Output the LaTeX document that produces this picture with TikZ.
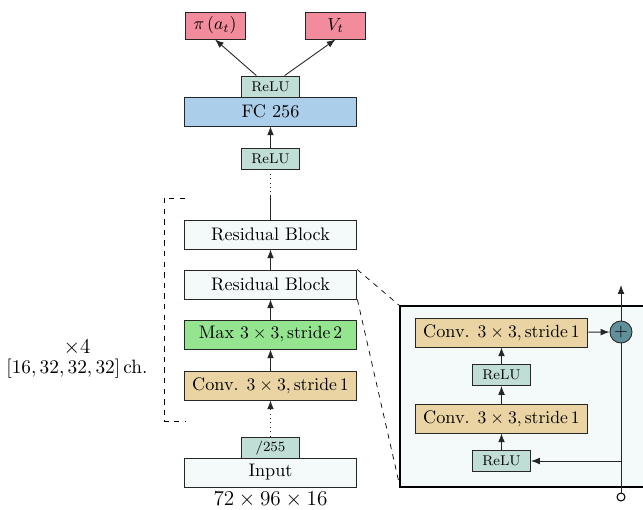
\documentclass[tikz,border=0pt]{standalone}
\usetikzlibrary{arrows.meta}
\definecolor{outpink}{RGB}{242,139,155}
\definecolor{fcblue}{RGB}{171,207,234}
\definecolor{relugreen}{RGB}{193,222,214}
\definecolor{maxgreen}{RGB}{149,228,144}
\definecolor{convtan}{RGB}{235,212,164}
\definecolor{lightfill}{RGB}{244,250,250}
\definecolor{addteal}{RGB}{96,144,153}
\begin{document}
\begin{tikzpicture}[>={Latex[length=5pt,width=3.8pt]}, x=0.567pt, y=-0.567pt,
    box/.style={draw=black!85, line width=0.5pt, inner sep=0pt, minimum width=98pt, minimum height=16.4pt, font=\fontsize{10.3}{12}\selectfont},
    small/.style={draw=black!85, line width=0.5pt, fill=relugreen, inner sep=0pt, minimum width=32.9pt, minimum height=11.9pt, font=\footnotesize},
    head/.style={draw=black!85, line width=0.5pt, fill=outpink, inner sep=0pt, minimum width=34pt, minimum height=15.3pt, font=\fontsize{10.3}{12}\selectfont},
    line/.style={draw=black!85, line width=0.5pt}]
  \useasboundingbox (0,0) rectangle (643,510);
  % outputs
  \node[head] (pi) at (215,25.5) {$\pi\left(a_t\right)$};
  \node[head] (V) at (335.5,25.5) {$V_t$};
  \node[small] (relua) at (270.5,86.5) {ReLU};
  \node[box, fill=fcblue] (fc) at (270.5,111.5) {FC 256};
  \node[small] (relub) at (270.5,158.5) {ReLU};
  % residual stack
  \node[box, fill=lightfill] (rb1) at (270.5,234.5) {Residual Block};
  \node[box, fill=lightfill] (rb2) at (270.5,284.5) {Residual Block};
  \node[box, fill=maxgreen] (pool) at (270.5,334.5) {Max $3\times3, \mathrm{stride}\,2$};
  \node[box, fill=convtan] (conv) at (270.5,385.5) {Conv. $3\times3, \mathrm{stride}\,1$};
  \node[small] (norm) at (270.5,447.5) {$/255$};
  \node[box, fill=lightfill] (input) at (270.5,472.5) {Input};
  \node[font=\large] (dims) at (270.5,500) {$72\times96\times16$};
  \coordinate (skip) at (270.5,195);
  \draw[line, ->] ([xshift=-8pt]relua.north) -- (pi.south);
  \draw[line, ->] ([xshift=8pt]relua.north) -- (V.south);
  \draw[line, ->] (relub) -- (fc);
  \draw[line, dotted] (relub) -- (skip);
  \draw[line] (skip) -- (rb1);
  \draw[line, ->] (rb2) -- (rb1);
  \draw[line, ->] (pool) -- (rb2);
  \draw[line, ->] (conv) -- (pool);
  \draw[line, dotted, ->] (norm) -- (conv);
  % repeat bracket
  \draw[dashed] (185,198) -| (164,421) -- (185,421);
  \node[align=center, inner sep=0pt, font=\fontsize{10.6}{11}\selectfont] (rep) at (77,359) {{\large$\times4$}\\$[16,32,32,32]\,\mathrm{ch.}$};
  % residual block detail
  \draw[line width=0.9pt, fill=lightfill] (400,306) rectangle (650,487);
  \draw[dashed] (rb2.north east) -- (400,306);
  \draw[dashed] (rb2.south east) -- (400,487);
  \node[box, fill=convtan] (rconvb) at (501.5,332.5) {Conv. $3\times3, \mathrm{stride}\,1$};
  \node[small] (rrelub) at (501.5,375) {ReLU};
  \node[box, fill=convtan] (rconva) at (501.5,418.5) {Conv. $3\times3, \mathrm{stride}\,1$};
  \node[small] (rrelua) at (501.5,461) {ReLU};
  \node[circle, draw=black!85, line width=0.5pt, fill=addteal, inner sep=0pt, minimum size=12.5pt] (add) at (621,332) {$+$};
  \node[circle, draw=black, line width=0.6pt, fill=white, inner sep=0pt, minimum size=4.5pt] (resin) at (621,497) {};
  \coordinate (resout) at (621,285);
  \coordinate (branch) at (621,461);
  \draw[line] (resin) -- (add);
  \draw[line, ->] (add) -- (resout);
  \draw[line, ->] (branch) -- (rrelua);
  \draw[line, ->] (rrelua) -- (rconva);
  \draw[line, ->] (rconva) -- (rrelub);
  \draw[line, ->] (rrelub) -- (rconvb);
  \draw[line, ->] (rconvb) -- (add);
\end{tikzpicture}
\end{document}
